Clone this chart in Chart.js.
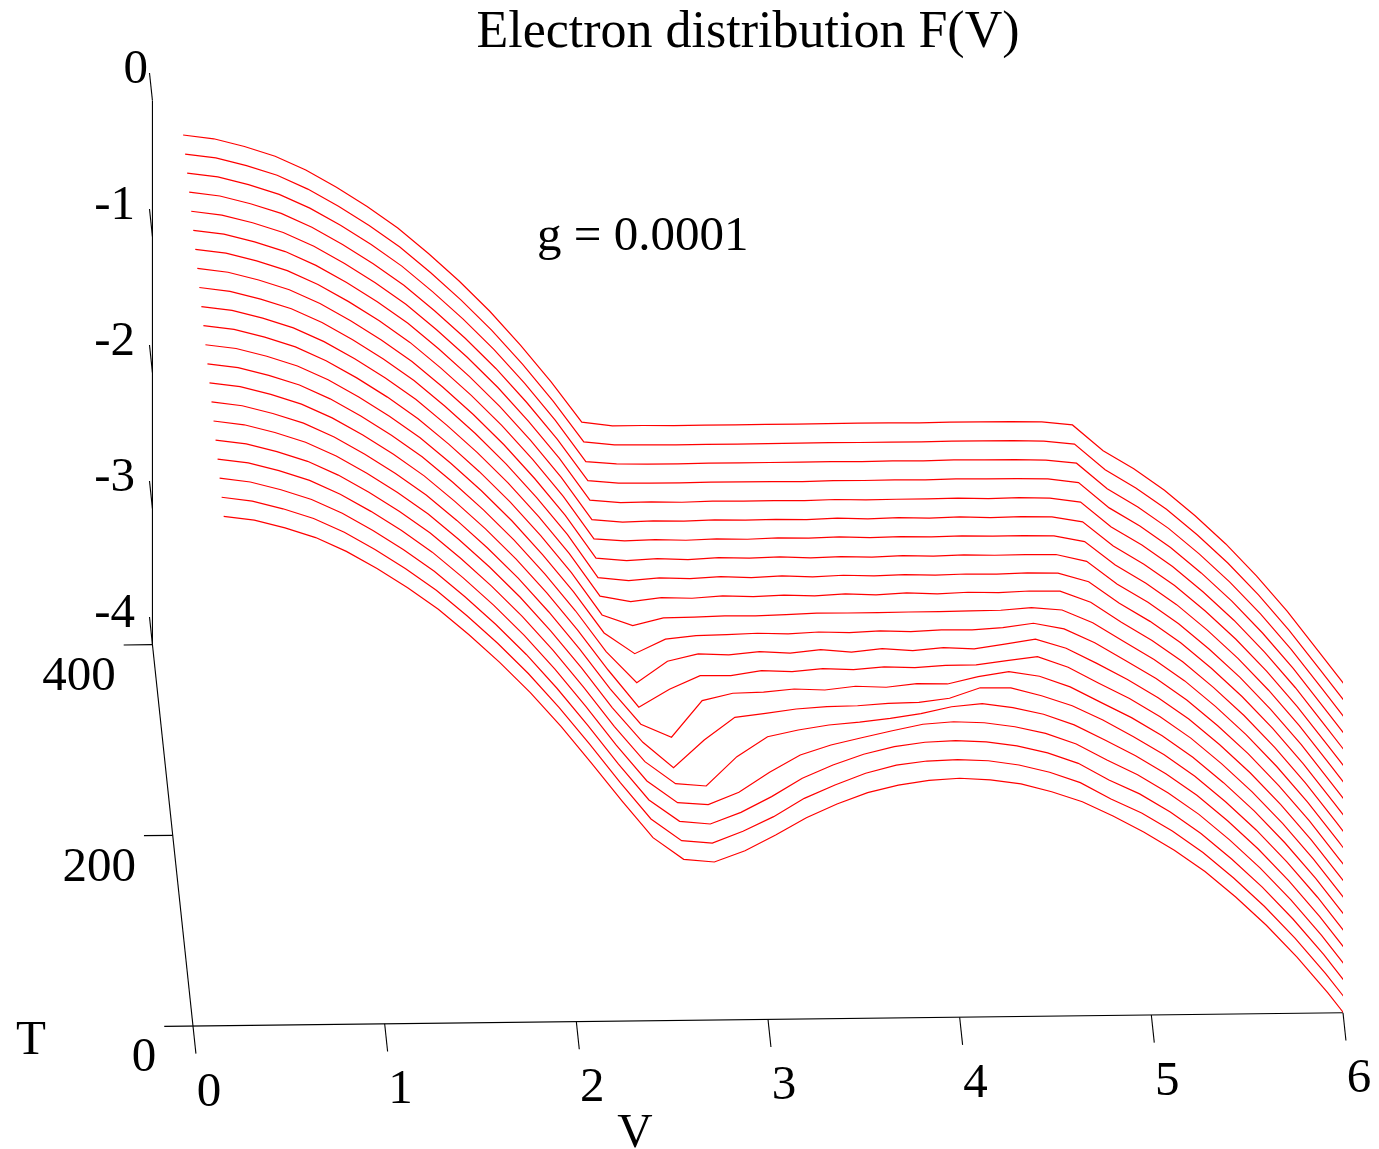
<!DOCTYPE html>
<html>
<head>
<meta charset="utf-8">
<title>Electron distribution F(V)</title>
<script src="https://cdn.jsdelivr.net/npm/chart.js@4"></script>
<style>
  html, body { margin: 0; padding: 0; background: #fff; }
  #wrap { position: relative; width: 1379px; height: 1149px; }
</style>
</head>
<body>
<div id="wrap"><canvas id="myChart"></canvas></div>
<script>
const vValues = [0.16, 0.32, 0.48, 0.64, 0.80, 0.96, 1.12, 1.28, 1.44, 1.60, 1.76, 1.92, 2.08,
  2.24, 2.40, 2.56, 2.72, 2.88, 3.04, 3.20, 3.36, 3.52, 3.68, 3.84, 4.00, 4.16, 4.32, 4.48, 4.64, 4.80,
  4.96, 5.12, 5.28, 5.44, 5.60, 5.76, 5.92, 6.08, 6.24];

// both wings of the distribution look the same at every T
const wingLow = [-0.255, -0.2855, -0.345, -0.419, -0.523, -0.652, -0.796, -0.957, -1.147, -1.352, -1.577, -1.828, -2.102];
const wingHigh = [-2.654, -2.790, -2.950, -3.140, -3.350, -3.587, -3.850, -4.140, -4.433];

// middle part, V = 2.24 .. 4.80, one list per T
const mid000 = [-2.384, -2.654, -2.816, -2.838, -2.758, -2.645, -2.520, -2.422, -2.341, -2.288, -2.256, -2.243, -2.258, -2.290, -2.350, -2.426, -2.534];
const mid020 = [-2.387, -2.657, -2.819, -2.839, -2.755, -2.650, -2.518, -2.422, -2.339, -2.281, -2.254, -2.247, -2.257, -2.291, -2.347, -2.426, -2.549];
const mid040 = [-2.390, -2.657, -2.817, -2.839, -2.756, -2.643, -2.511, -2.416, -2.339, -2.286, -2.256, -2.247, -2.259, -2.291, -2.345, -2.424, -2.549];
const mid060 = [-2.392, -2.658, -2.820, -2.837, -2.749, -2.604, -2.480, -2.409, -2.358, -2.309, -2.264, -2.248, -2.258, -2.290, -2.341, -2.422, -2.543];
const mid080 = [-2.394, -2.656, -2.820, -2.840, -2.627, -2.483, -2.436, -2.402, -2.384, -2.358, -2.326, -2.278, -2.258, -2.290, -2.341, -2.422, -2.536];
const mid100 = [-2.396, -2.654, -2.843, -2.642, -2.478, -2.451, -2.422, -2.407, -2.403, -2.388, -2.383, -2.356, -2.281, -2.285, -2.345, -2.421, -2.529];
const mid120 = [-2.398, -2.661, -2.759, -2.493, -2.441, -2.436, -2.415, -2.425, -2.400, -2.410, -2.386, -2.391, -2.340, -2.306, -2.342, -2.423, -2.539];
const mid140 = [-2.400, -2.676, -2.547, -2.449, -2.452, -2.418, -2.428, -2.408, -2.418, -2.401, -2.409, -2.394, -2.394, -2.365, -2.338, -2.419, -2.539];
const mid160 = [-2.405, -2.636, -2.481, -2.430, -2.440, -2.418, -2.432, -2.409, -2.430, -2.406, -2.424, -2.404, -2.416, -2.384, -2.350, -2.419, -2.533];
const mid180 = [-2.408, -2.563, -2.459, -2.435, -2.431, -2.423, -2.431, -2.419, -2.426, -2.416, -2.424, -2.414, -2.417, -2.403, -2.373, -2.417, -2.521];
const mid200 = [-2.416, -2.497, -2.443, -2.440, -2.433, -2.436, -2.429, -2.421, -2.422, -2.422, -2.420, -2.420, -2.417, -2.415, -2.398, -2.418, -2.514];
const mid220 = [-2.418, -2.461, -2.434, -2.441, -2.426, -2.434, -2.426, -2.434, -2.422, -2.432, -2.420, -2.430, -2.420, -2.425, -2.416, -2.420, -2.504];
const mid240 = [-2.422, -2.446, -2.429, -2.437, -2.425, -2.435, -2.425, -2.435, -2.425, -2.432, -2.426, -2.432, -2.426, -2.430, -2.423, -2.428, -2.493];
const mid260 = [-2.419, -2.439, -2.427, -2.437, -2.425, -2.432, -2.425, -2.435, -2.428, -2.435, -2.426, -2.433, -2.426, -2.431, -2.429, -2.431, -2.484];
const mid280 = [-2.417, -2.435, -2.428, -2.435, -2.428, -2.433, -2.426, -2.430, -2.423, -2.431, -2.426, -2.431, -2.426, -2.431, -2.429, -2.434, -2.479];
const mid300 = [-2.416, -2.437, -2.430, -2.435, -2.428, -2.433, -2.430, -2.434, -2.426, -2.434, -2.427, -2.434, -2.427, -2.435, -2.430, -2.435, -2.474];
const mid320 = [-2.413, -2.433, -2.431, -2.436, -2.431, -2.433, -2.432, -2.434, -2.429, -2.434, -2.432, -2.432, -2.429, -2.435, -2.430, -2.437, -2.469];
const mid340 = [-2.409, -2.431, -2.433, -2.434, -2.431, -2.432, -2.432, -2.435, -2.430, -2.432, -2.430, -2.432, -2.428, -2.430, -2.431, -2.435, -2.465];
const mid360 = [-2.410, -2.429, -2.434, -2.434, -2.432, -2.432, -2.432, -2.432, -2.430, -2.433, -2.430, -2.433, -2.428, -2.431, -2.431, -2.438, -2.463];
const mid380 = [-2.405, -2.430, -2.432, -2.435, -2.434, -2.434, -2.433, -2.433, -2.431, -2.433, -2.433, -2.433, -2.431, -2.431, -2.432, -2.439, -2.463];
const mid400 = [-2.400, -2.430, -2.430, -2.433, -2.432, -2.433, -2.432, -2.433, -2.431, -2.431, -2.431, -2.434, -2.431, -2.432, -2.432, -2.437, -2.462];

const tValues = [0, 20, 40, 60, 80, 100, 120, 140, 160, 180, 200, 220, 240, 260, 280, 300, 320, 340, 360, 380, 400];
const midLists = [mid000, mid020, mid040, mid060, mid080, mid100, mid120, mid140, mid160, mid180, mid200,
  mid220, mid240, mid260, mid280, mid300, mid320, mid340, mid360, mid380, mid400];

const vTicks = [0, 1, 2, 3, 4, 5, 6];
const tTicks = [0, 200, 400];
const fTicks = [0, -1, -2, -3, -4];

const titleText = 'Electron distribution F(V)';
const noteText = 'g = 0.0001';
const serif = '"Liberation Serif", serif';

// oblique view: T pushes a point back and up, V tilts it slightly
const project = (v, t, f) => ({
  x: v - 0.000529 * t,
  y: f + 0.00701 * t + 0.01618 * v
});

const curveSets = tValues.map((t, n) => {
  const fs = wingLow.concat(midLists[n], wingHigh);
  return {
    label: 'T=' + t,
    data: vValues.map((v, i) => project(v, t, fs[i])),
    borderColor: '#ff0000',
    borderWidth: 1.2,
    pointRadius: 0,
    showLine: true,
    tension: 0
  };
});

const axisSet = (a, b) => ({
  label: 'axis',
  data: [project(a[0], a[1], a[2]), project(b[0], b[1], b[2])],
  borderColor: '#000000',
  borderWidth: 1.1,
  pointRadius: 0,
  showLine: true,
  tension: 0,
  clip: false
});

const axisSets = [
  axisSet([-0.15, 0, -4], [6, 0, -4]),
  axisSet([0, -29, -4], [0, 400, -4]),
  axisSet([0, 400, -4], [0, 400, 0])
];
vTicks.slice(1).forEach((v) => axisSets.push(axisSet([v, 0, -4], [v, -29, -4])));
tTicks.slice(1).forEach((t) => axisSets.push(axisSet([0, t, -4], [-0.15, t, -4])));
fTicks.forEach((f) => axisSets.push(axisSet([0, 400, f], [0, 429, f])));

const textPlugin = {
  id: 'axisText',
  afterDraw(chart) {
    const c = chart.ctx;
    const sx = chart.scales.x;
    const sy = chart.scales.y;
    const put = (txt, x, y, align, size) => {
      c.font = size + 'px ' + serif;
      c.textAlign = align;
      c.textBaseline = 'middle';
      c.fillText(txt, x, y);
    };
    c.save();
    c.fillStyle = '#000000';
    vTicks.forEach((v) => {
      const p = project(v, -29, -4);
      put(String(v), sx.getPixelForValue(p.x) + 13, sy.getPixelForValue(p.y) + 39, 'center', 49);
    });
    tTicks.forEach((t) => {
      const p = project(-0.15, t, -4);
      put(String(t), sx.getPixelForValue(p.x) - 8, sy.getPixelForValue(p.y) + 32, 'right', 49);
    });
    fTicks.forEach((f) => {
      const p = project(0, 429, f);
      const px = f === 0 ? 148 : 135;
      put(String(f), px, sy.getPixelForValue(p.y) - 3, 'right', 49);
    });
    put('T', 31, 1041, 'center', 49);
    put('V', 635, 1134, 'center', 49);
    put(noteText, 537, 237, 'left', 49);
    c.restore();
  }
};

const myChart = new Chart(document.getElementById('myChart').getContext('2d'), {
  type: 'scatter',
  data: { datasets: curveSets.concat(axisSets) },
  plugins: [textPlugin],
  options: {
    responsive: true,
    maintainAspectRatio: false,
    animation: false,
    layout: { padding: { left: 153, right: 36, top: 2, bottom: 0 } },
    plugins: {
      legend: { display: false },
      tooltip: { enabled: false },
      title: {
        display: true,
        text: titleText,
        color: '#000000',
        padding: 0,
        font: { family: serif, size: 52, weight: 'normal', lineHeight: 1.2 }
      }
    },
    scales: {
      x: { type: 'linear', display: false, min: -0.2087, max: 6 },
      y: { type: 'linear', display: false, min: -4.9044, max: 3.0706 }
    }
  }
});
</script>
</body>
</html>
